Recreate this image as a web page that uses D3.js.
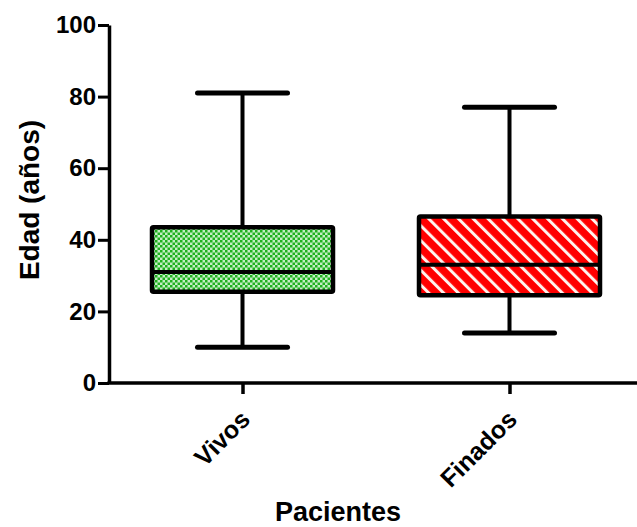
<!DOCTYPE html>
<html>
<head>
<meta charset="utf-8">
<script src="https://cdn.jsdelivr.net/npm/d3@7"></script>
<style>
  body { margin: 0; background: #fff; }
  svg { display: block; font-family: Arial, 'Liberation Sans', sans-serif; font-weight: bold; }
</style>
</head>
<body>
<svg id="chart" width="637" height="527"></svg>
<script>
const categories = ['Vivos', 'Finados']
const minVals = [10, 14]
const q1Vals = [25.5, 24.5]
const medianVals = [31, 33]
const q3Vals = [43.5, 46.5]
const maxVals = [81, 77]
const yTicks = [0, 20, 40, 60, 80, 100]
const fills = ['url(#checks)', 'url(#hatch)']

const svg = d3.select('#chart')

// fill patterns
const defs = svg.append('defs')
const checks = defs.append('pattern')
    .attr('id', 'checks')
    .attr('patternUnits', 'userSpaceOnUse')
    .attr('width', 5).attr('height', 5)
checks.append('rect').attr('width', 5).attr('height', 5).attr('fill', '#c4eec4')
checks.append('rect').attr('width', 2.5).attr('height', 2.5).attr('fill', '#1fb01f')
checks.append('rect').attr('x', 2.5).attr('y', 2.5).attr('width', 2.5).attr('height', 2.5).attr('fill', '#1fb01f')

const hatch = defs.append('pattern')
    .attr('id', 'hatch')
    .attr('patternUnits', 'userSpaceOnUse')
    .attr('width', 10.5).attr('height', 10.5)
    .attr('patternTransform', 'rotate(-45)')
hatch.append('rect').attr('width', 10.5).attr('height', 10.5).attr('fill', '#ff0000')
hatch.append('rect').attr('width', 3).attr('height', 10.5).attr('fill', '#fff4ee')

const y = d3.scaleLinear().domain([0, 100]).range([383, 25])
const x = d3.scalePoint().domain(categories).range([109, 643]).padding(0.5)
const boxW = 181
const capW = 90

const boxes = categories.map((c, i) => ({
    name: c, min: minVals[i], q1: q1Vals[i], med: medianVals[i], q3: q3Vals[i], max: maxVals[i], fill: fills[i]
}))

const g = svg.selectAll('.box').data(boxes).enter().append('g').attr('class', 'box')

// whiskers
g.append('line')
    .attr('x1', (d) => x(d.name)).attr('x2', (d) => x(d.name))
    .attr('y1', (d) => y(d.max)).attr('y2', (d) => y(d.min))
    .attr('stroke', '#000').attr('stroke-width', 4)
g.selectAll('.cap').data((d) => [d.min, d.max].map((v) => ({name: d.name, v: v})))
    .enter().append('line')
    .attr('class', 'cap')
    .attr('x1', (d) => x(d.name) - capW / 2).attr('x2', (d) => x(d.name) + capW / 2)
    .attr('y1', (d) => y(d.v)).attr('y2', (d) => y(d.v))
    .attr('stroke', '#000').attr('stroke-width', 5).attr('stroke-linecap', 'round')

// box
g.append('rect')
    .attr('x', (d) => x(d.name) - boxW / 2)
    .attr('y', (d) => y(d.q3))
    .attr('width', boxW)
    .attr('height', (d) => y(d.q1) - y(d.q3))
    .attr('fill', (d) => d.fill)
    .attr('stroke', '#000').attr('stroke-width', 4.5)
    .attr('rx', 1.5)
g.append('line')
    .attr('x1', (d) => x(d.name) - boxW / 2).attr('x2', (d) => x(d.name) + boxW / 2)
    .attr('y1', (d) => y(d.med)).attr('y2', (d) => y(d.med))
    .attr('stroke', '#000').attr('stroke-width', 4)

// axes
const yAxis = svg.append('g')
    .attr('transform', 'translate(109,0)')
    .call(d3.axisLeft(y).tickValues(yTicks).tickSize(11).tickPadding(2).tickSizeOuter(0))
yAxis.select('.domain').attr('stroke-width', 3.5)
yAxis.selectAll('.tick line').attr('stroke-width', 3)
yAxis.selectAll('.tick text')
    .attr('font-size', 24).attr('font-weight', 'bold').attr('fill', '#000')
    .attr('font-family', 'Arial, Liberation Sans, sans-serif')

const xAxis = svg.append('g')
    .attr('transform', 'translate(0,383)')
    .call(d3.axisBottom(x).tickSize(11).tickSizeOuter(0).tickFormat(''))
xAxis.select('.domain').attr('stroke-width', 3.5)
    .attr('d', 'M107.5,0H637')
xAxis.selectAll('.tick line').attr('stroke-width', 3.5)

svg.append('g').selectAll('text').data(categories).enter().append('text')
    .attr('transform', (d) => `translate(${x(d) + 9},421) rotate(-45)`)
    .attr('text-anchor', 'end')
    .attr('font-size', 25)
    .text((d) => d)

svg.append('text')
    .attr('x', 338).attr('y', 521)
    .attr('text-anchor', 'middle')
    .attr('font-size', 27)
    .text('Pacientes')

svg.append('text')
    .attr('transform', 'translate(39,200) rotate(-90)')
    .attr('text-anchor', 'middle')
    .attr('font-size', 28)
    .text('Edad (años)')
</script>
</body>
</html>
